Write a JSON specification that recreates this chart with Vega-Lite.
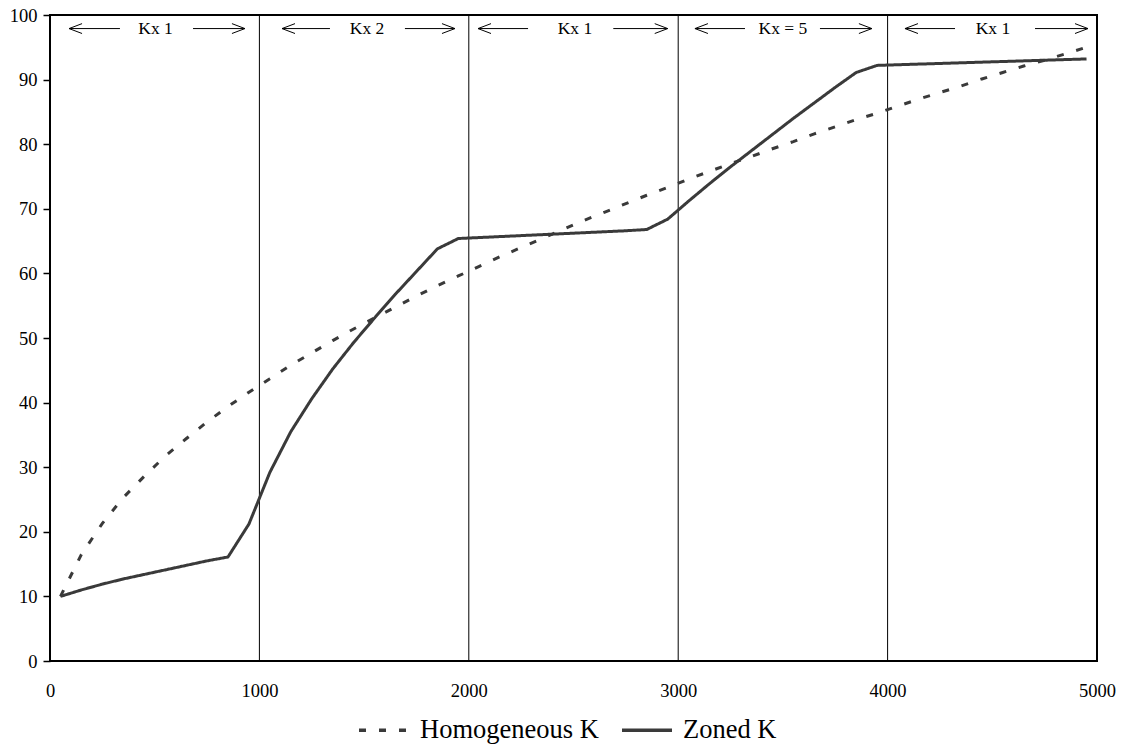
{
  "$schema": "https://vega.github.io/schema/vega-lite/v6.json",
  "autosize": "none",
  "width": 1047,
  "height": 646,
  "padding": {"left": 50, "top": 15, "right": 31, "bottom": 87},
  "background": "white",
  "config": {
    "view": {"stroke": "black", "strokeWidth": 2},
    "font": "Liberation Serif",
    "axis": {"labelFont": "Liberation Serif", "labelFontSize": 18.5, "labelColor": "black", "grid": false, "domain": false, "title": null}
  },
  "datasets": {
    "curves": [
      {"x": 50, "y": 10.0, "series": "Zoned K"},
      {"x": 150, "y": 11.0, "series": "Zoned K"},
      {"x": 250, "y": 11.9, "series": "Zoned K"},
      {"x": 350, "y": 12.7, "series": "Zoned K"},
      {"x": 450, "y": 13.4, "series": "Zoned K"},
      {"x": 550, "y": 14.1, "series": "Zoned K"},
      {"x": 650, "y": 14.8, "series": "Zoned K"},
      {"x": 750, "y": 15.5, "series": "Zoned K"},
      {"x": 850, "y": 16.1, "series": "Zoned K"},
      {"x": 950, "y": 21.2, "series": "Zoned K"},
      {"x": 1050, "y": 29.2, "series": "Zoned K"},
      {"x": 1150, "y": 35.5, "series": "Zoned K"},
      {"x": 1250, "y": 40.6, "series": "Zoned K"},
      {"x": 1350, "y": 45.2, "series": "Zoned K"},
      {"x": 1450, "y": 49.3, "series": "Zoned K"},
      {"x": 1550, "y": 53.1, "series": "Zoned K"},
      {"x": 1650, "y": 56.8, "series": "Zoned K"},
      {"x": 1750, "y": 60.3, "series": "Zoned K"},
      {"x": 1850, "y": 63.8, "series": "Zoned K"},
      {"x": 1950, "y": 65.4, "series": "Zoned K"},
      {"x": 2050, "y": 65.55, "series": "Zoned K"},
      {"x": 2150, "y": 65.7, "series": "Zoned K"},
      {"x": 2250, "y": 65.85, "series": "Zoned K"},
      {"x": 2350, "y": 66.0, "series": "Zoned K"},
      {"x": 2450, "y": 66.15, "series": "Zoned K"},
      {"x": 2550, "y": 66.3, "series": "Zoned K"},
      {"x": 2650, "y": 66.45, "series": "Zoned K"},
      {"x": 2750, "y": 66.6, "series": "Zoned K"},
      {"x": 2850, "y": 66.8, "series": "Zoned K"},
      {"x": 2950, "y": 68.4, "series": "Zoned K"},
      {"x": 3050, "y": 71.2, "series": "Zoned K"},
      {"x": 3150, "y": 73.9, "series": "Zoned K"},
      {"x": 3250, "y": 76.5, "series": "Zoned K"},
      {"x": 3350, "y": 79.0, "series": "Zoned K"},
      {"x": 3450, "y": 81.5, "series": "Zoned K"},
      {"x": 3550, "y": 84.0, "series": "Zoned K"},
      {"x": 3650, "y": 86.4, "series": "Zoned K"},
      {"x": 3750, "y": 88.8, "series": "Zoned K"},
      {"x": 3850, "y": 91.1, "series": "Zoned K"},
      {"x": 3950, "y": 92.2, "series": "Zoned K"},
      {"x": 4050, "y": 92.3, "series": "Zoned K"},
      {"x": 4150, "y": 92.4, "series": "Zoned K"},
      {"x": 4250, "y": 92.5, "series": "Zoned K"},
      {"x": 4350, "y": 92.6, "series": "Zoned K"},
      {"x": 4450, "y": 92.7, "series": "Zoned K"},
      {"x": 4550, "y": 92.8, "series": "Zoned K"},
      {"x": 4650, "y": 92.9, "series": "Zoned K"},
      {"x": 4750, "y": 93.0, "series": "Zoned K"},
      {"x": 4850, "y": 93.1, "series": "Zoned K"},
      {"x": 4950, "y": 93.2, "series": "Zoned K"},
      {"x": 50, "y": 10.0, "series": "Homogeneous K"},
      {"x": 150, "y": 16.5, "series": "Homogeneous K"},
      {"x": 250, "y": 21.3, "series": "Homogeneous K"},
      {"x": 350, "y": 25.3, "series": "Homogeneous K"},
      {"x": 450, "y": 28.6, "series": "Homogeneous K"},
      {"x": 550, "y": 31.7, "series": "Homogeneous K"},
      {"x": 650, "y": 34.4, "series": "Homogeneous K"},
      {"x": 750, "y": 37.0, "series": "Homogeneous K"},
      {"x": 850, "y": 39.4, "series": "Homogeneous K"},
      {"x": 950, "y": 41.6, "series": "Homogeneous K"},
      {"x": 1050, "y": 43.7, "series": "Homogeneous K"},
      {"x": 1150, "y": 45.8, "series": "Homogeneous K"},
      {"x": 1250, "y": 47.7, "series": "Homogeneous K"},
      {"x": 1350, "y": 49.6, "series": "Homogeneous K"},
      {"x": 1450, "y": 51.4, "series": "Homogeneous K"},
      {"x": 1550, "y": 53.1, "series": "Homogeneous K"},
      {"x": 1650, "y": 54.8, "series": "Homogeneous K"},
      {"x": 1750, "y": 56.5, "series": "Homogeneous K"},
      {"x": 1850, "y": 58.1, "series": "Homogeneous K"},
      {"x": 1950, "y": 59.6, "series": "Homogeneous K"},
      {"x": 2050, "y": 61.1, "series": "Homogeneous K"},
      {"x": 2150, "y": 62.6, "series": "Homogeneous K"},
      {"x": 2250, "y": 64.0, "series": "Homogeneous K"},
      {"x": 2350, "y": 65.4, "series": "Homogeneous K"},
      {"x": 2450, "y": 66.8, "series": "Homogeneous K"},
      {"x": 2550, "y": 68.2, "series": "Homogeneous K"},
      {"x": 2650, "y": 69.5, "series": "Homogeneous K"},
      {"x": 2750, "y": 70.8, "series": "Homogeneous K"},
      {"x": 2850, "y": 72.1, "series": "Homogeneous K"},
      {"x": 2950, "y": 73.3, "series": "Homogeneous K"},
      {"x": 3050, "y": 74.6, "series": "Homogeneous K"},
      {"x": 3150, "y": 75.8, "series": "Homogeneous K"},
      {"x": 3250, "y": 77.0, "series": "Homogeneous K"},
      {"x": 3350, "y": 78.1, "series": "Homogeneous K"},
      {"x": 3450, "y": 79.3, "series": "Homogeneous K"},
      {"x": 3550, "y": 80.4, "series": "Homogeneous K"},
      {"x": 3650, "y": 81.6, "series": "Homogeneous K"},
      {"x": 3750, "y": 82.7, "series": "Homogeneous K"},
      {"x": 3850, "y": 83.8, "series": "Homogeneous K"},
      {"x": 3950, "y": 84.8, "series": "Homogeneous K"},
      {"x": 4050, "y": 85.9, "series": "Homogeneous K"},
      {"x": 4150, "y": 87.0, "series": "Homogeneous K"},
      {"x": 4250, "y": 88.0, "series": "Homogeneous K"},
      {"x": 4350, "y": 89.0, "series": "Homogeneous K"},
      {"x": 4450, "y": 90.1, "series": "Homogeneous K"},
      {"x": 4550, "y": 91.1, "series": "Homogeneous K"},
      {"x": 4650, "y": 92.1, "series": "Homogeneous K"},
      {"x": 4750, "y": 93.0, "series": "Homogeneous K"},
      {"x": 4850, "y": 94.0, "series": "Homogeneous K"},
      {"x": 4950, "y": 95.0, "series": "Homogeneous K"}
    ],
    "bounds": [{"b": 1000}, {"b": 2000}, {"b": 3000}, {"b": 4000}],
    "zones": [
      {"label": "Kx 1", "mid": 504},
      {"label": "Kx 2", "mid": 1514},
      {"label": "Kx 1", "mid": 2507},
      {"label": "Kx = 5", "mid": 3500},
      {"label": "Kx 1", "mid": 4503}
    ],
    "arrows": [
      {"from": 91, "to": 334, "tip": 91, "dir": "left"},
      {"from": 683, "to": 931, "tip": 931, "dir": "right"},
      {"from": 1108, "to": 1337, "tip": 1108, "dir": "left"},
      {"from": 1695, "to": 1934, "tip": 1934, "dir": "right"},
      {"from": 2044, "to": 2283, "tip": 2044, "dir": "left"},
      {"from": 2690, "to": 2950, "tip": 2950, "dir": "right"},
      {"from": 3080, "to": 3319, "tip": 3080, "dir": "left"},
      {"from": 3677, "to": 3925, "tip": 3925, "dir": "right"},
      {"from": 4083, "to": 4322, "tip": 4083, "dir": "left"},
      {"from": 4704, "to": 4957, "tip": 4957, "dir": "right"}
    ]
  },
  "layer": [
    {
      "data": {"name": "bounds"},
      "mark": {"type": "rule", "color": "black", "strokeWidth": 1},
      "encoding": {
        "x": {"field": "b", "type": "quantitative", "scale": {"domain": [0, 5000], "nice": false}}
      }
    },
    {
      "data": {"name": "curves"},
      "mark": {"type": "line", "color": "#3a3a3a", "strokeWidth": 3, "strokeCap": "butt", "strokeJoin": "miter"},
      "encoding": {
        "x": {"field": "x", "type": "quantitative", "scale": {"domain": [0, 5000], "nice": false},
          "axis": {"values": [0, 1000, 2000, 3000, 4000, 5000], "ticks": false, "labelPadding": 20, "labelFlush": false, "format": "d"}},
        "y": {"field": "y", "type": "quantitative", "scale": {"domain": [0, 100], "nice": false},
          "axis": {"values": [0, 10, 20, 30, 40, 50, 60, 70, 80, 90, 100], "ticks": true, "tickSize": 7, "tickColor": "black", "tickWidth": 1.5, "labelPadding": 6, "format": "d"}},
        "strokeDash": {"field": "series", "type": "nominal",
          "scale": {"domain": ["Homogeneous K", "Zoned K"], "range": [[7, 13], [1, 0]]},
          "legend": {"title": null, "orient": "none", "direction": "horizontal", "legendX": 307, "legendY": 688,
            "symbolType": "stroke", "symbolSize": 2500, "symbolStrokeWidth": 3.5, "symbolStrokeColor": "#3a3a3a",
            "labelFont": "Liberation Serif", "labelFontSize": 26.5, "labelColor": "black", "labelOffset": 9, "labelLimit": 0, "columnPadding": 16}}
      }
    },
    {
      "data": {"name": "arrows"},
      "mark": {"type": "rule", "color": "black", "strokeWidth": 1},
      "encoding": {
        "x": {"field": "from", "type": "quantitative"},
        "x2": {"field": "to"},
        "y": {"datum": 97.9}
      }
    },
    {
      "data": {"name": "arrows"},
      "mark": {"type": "point", "filled": false, "stroke": "black", "strokeWidth": 1, "size": 676, "opacity": 1},
      "encoding": {
        "x": {"field": "tip", "type": "quantitative"},
        "y": {"datum": 97.9},
        "shape": {"field": "dir", "type": "nominal", "legend": null,
          "scale": {"domain": ["left", "right"], "range": ["M0,0L1,-0.38M0,0L1,0.38", "M0,0L-1,-0.38M0,0L-1,0.38"]}}
      }
    },
    {
      "data": {"name": "zones"},
      "mark": {"type": "text", "font": "Liberation Serif", "fontSize": 17.5, "color": "black", "baseline": "middle", "align": "center"},
      "encoding": {
        "x": {"field": "mid", "type": "quantitative"},
        "y": {"datum": 97.9},
        "text": {"field": "label"}
      }
    }
  ]
}
